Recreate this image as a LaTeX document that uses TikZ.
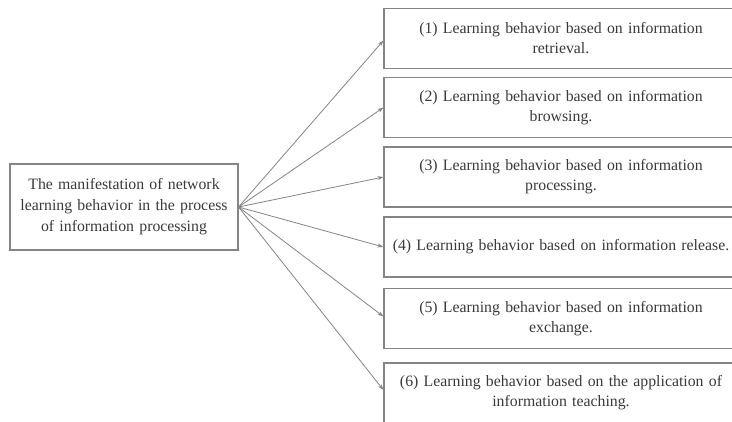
\documentclass[tikz,border=0pt]{standalone}
\usepackage{fontspec}
\setmainfont{Liberation Serif}
\usetikzlibrary{arrows.meta}

\definecolor{linegray}{HTML}{858585}
\definecolor{textgray}{HTML}{3A3A3A}

\tikzset{
  behavior/.style={draw=linegray, line width=1.1pt, text=textgray,
    minimum width=354, minimum height=60, text width=346,
    align=center, inner sep=0pt,
    font=\fontsize{15.8}{20}\selectfont},
  mainbox/.style={draw=linegray, line width=1.1pt, text=textgray,
    minimum width=228, minimum height=86, text width=222,
    align=center, inner sep=0pt,
    font=\fontsize{15.8}{21}\selectfont},
  link/.style={draw=linegray, line width=0.8pt, -{Stealth[length=6pt,width=4pt]}}
}

\begin{document}
\begin{tikzpicture}[x=1pt, y=-1pt]
  \useasboundingbox (0,0) rectangle (732,421);
  \clip (0,0) rectangle (732,421);
  \fill[white] (0,0) rectangle (732,421);

  \node[mainbox] (main) at (124,207) {The manifestation of network\\
    learning behavior in the process\\ of information processing};

  \node[behavior] (b1) at (561,38.5) {(1) Learning behavior based on
    information\\ retrieval.};
  \node[behavior] (b2) at (561,107.5) {(2) Learning behavior based on
    information\\ browsing.};
  \node[behavior] (b3) at (561,177) {(3) Learning behavior based on
    information\\ processing.};
  \node[behavior] (b4) at (561,247) {(4) Learning behavior based on
    information release.};
  \node[behavior] (b5) at (561,318.5) {(5) Learning behavior based on
    information\\ exchange.};
  \node[behavior] (b6) at (561,393) {(6) Learning behavior based on the
    application of\\ information teaching.};

  \draw[link] (main.east) -- ([yshift=-2]b1.west);
  \draw[link] (main.east) -- (b2.west);
  \draw[link] (main.east) -- (b3.west);
  \draw[link] (main.east) -- (b4.west);
  \draw[link] (main.east) -- ([yshift=2]b5.west);
  \draw[link] (main.east) -- ([yshift=3]b6.west);

\end{tikzpicture}
\end{document}
